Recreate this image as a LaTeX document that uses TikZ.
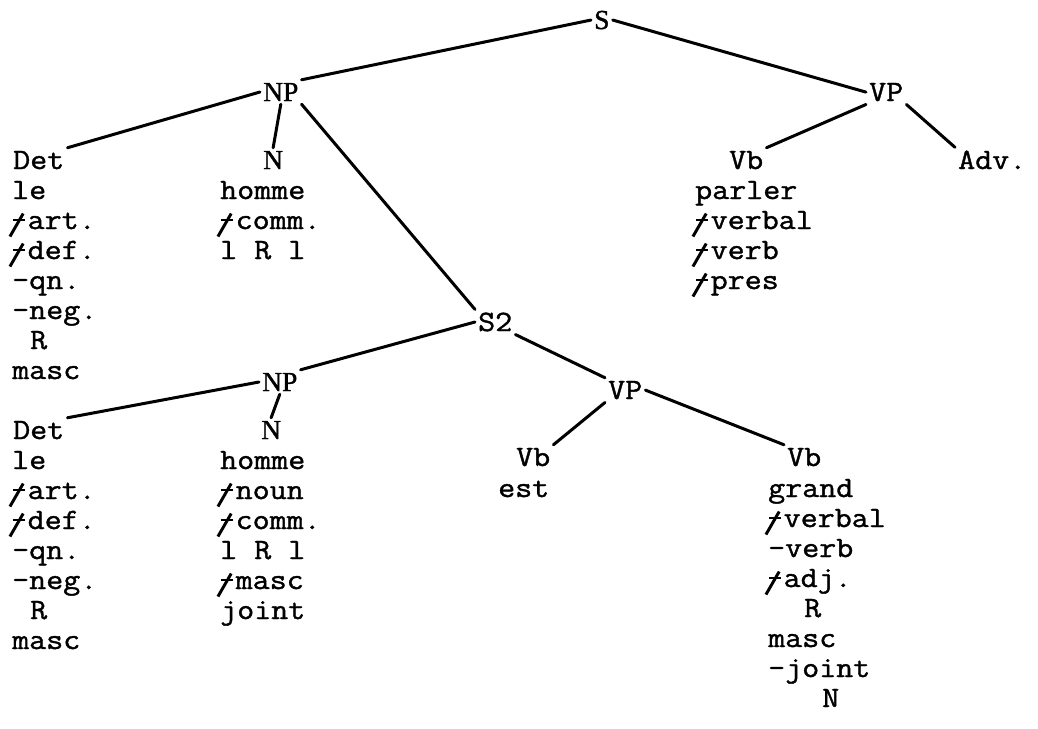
\documentclass[tikz,border=0pt]{standalone}
\usepackage{fontspec}
\usepackage{graphicx}
\newfontfamily\srfont{Liberation Serif}[FakeBold=1.2]
\newfontfamily\twfont{Latin Modern Mono}[FakeStretch=1.12,FakeBold=1.3]
\newcommand{\tw}{\twfont\fontsize{29.5}{30}\selectfont}
\newcommand{\sr}{\srfont\fontsize{27.5}{30}\selectfont}
\newcommand{\pl}{\makebox[0.525em][l]{\hspace{-0.12em}\raisebox{-0.28em}{\rlap{\rotatebox{60}{\rule{0.9em}{0.1em}}}}\raisebox{0.27em}{\hspace{0.14em}\rule{0.42em}{0.075em}}}}
\tikzset{
  txt/.style={inner sep=0pt, anchor=base west, font=\tw},
  cat/.style={inner sep=3pt, anchor=base west, font=\tw},
  scat/.style={inner sep=3pt, anchor=base west, font=\sr},
  br/.style={line width=3pt, line cap=round}
}
\begin{document}
\begin{tikzpicture}[x=1pt,y=-1pt]
\useasboundingbox (0,0) rectangle (1038,728);
% upper level
\node[scat] (S) at (591,29) {S};
\node[scat] (NPt) at (260,101) {NP};
\node[cat] (VPt) at (866,101) {VP};
\node[cat] (det1) at (10,169) {Det};
\node[scat] (N1) at (260,169) {N};
\node[cat] (vb1) at (726,169) {Vb};
\node[cat] (adv) at (955,169) {Adv.};
% middle level
\node[cat] (S2) at (475,331) {S2};
\node[scat] (NPm) at (259,391) {NP};
\node[cat] (VPm) at (605,399) {VP};
\node[cat] (det2) at (10,439) {Det};
\node[scat] (N2) at (258,439) {N};
\node[cat] (vb2) at (513,466) {Vb};
\node[cat] (vb3) at (784,466) {Vb};
% feature columns
\foreach \x/\t [count=\i] in {12/le,12/\pl art.,12/\pl def.,12/-qn.,12/-neg.,30/R,12/masc}
  \node[txt] (fa\i) at (\x,{169+30*\i}) {\t};
\foreach \x/\t [count=\i] in {220/homme,220/\pl comm.,220/l R l}
  \node[txt] (fb\i) at (\x,{169+30*\i}) {\t};
\foreach \x/\t [count=\i] in {695/parler,695/\pl verbal,695/\pl verb,695/\pl pres}
  \node[txt] (fc\i) at (\x,{169+30*\i}) {\t};
\foreach \x/\t [count=\i] in {12/le,12/\pl art.,12/\pl def.,12/-qn.,12/-neg.,30/R,12/masc}
  \node[txt] (fd\i) at (\x,{439+30*\i}) {\t};
\foreach \x/\t [count=\i] in {220/homme,220/\pl noun,220/\pl comm.,220/l R l,220/\pl masc,220/joint}
  \node[txt] (fe\i) at (\x,{439+30*\i}) {\t};
\node[txt] (ff1) at (498,497) {est};
\foreach \x/\t [count=\i] in {768/grand,768/\pl verbal,768/-verb,768/\pl adj.,804/R,768/masc,768/-joint,822/N}
  \node[txt] (fg\i) at (\x,{467+30*\i}) {\t};
% branches
\draw[br] (S.west) -- (NPt.north east);
\draw[br] (S.east) -- (VPt.west);
\draw[br] (NPt.west) -- (det1.north east);
\draw[br] (NPt.south) -- (N1.north);
\draw[br] (NPt.south east) -- (S2.north west);
\draw[br] (VPt.south west) -- (vb1.north east);
\draw[br] (VPt.south east) -- (adv.north west);
\draw[br] (S2.west) -- (NPm.north east);
\draw[br] (S2.south east) -- (VPm.north west);
\draw[br] (NPm.west) -- (det2.north east);
\draw[br] (NPm.south) -- (N2.north);
\draw[br] (VPm.south west) -- (vb2.north east);
\draw[br] (VPm.east) -- (vb3.north west);
\end{tikzpicture}
\end{document}
